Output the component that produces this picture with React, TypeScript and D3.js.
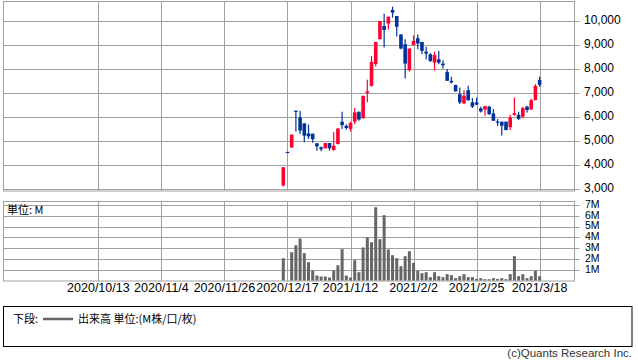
import React from "react";
import * as d3 from "d3";

// ---- data (trading days, oldest first) ----
const dates = [
  "2020/12/16","2020/12/17","2020/12/18","2020/12/21","2020/12/22","2020/12/23","2020/12/24","2020/12/25",
  "2020/12/28","2020/12/29","2020/12/30","2021/1/4","2021/1/5","2021/1/6","2021/1/7","2021/1/8",
  "2021/1/12","2021/1/13","2021/1/14","2021/1/15","2021/1/18","2021/1/19","2021/1/20","2021/1/21",
  "2021/1/22","2021/1/25","2021/1/26","2021/1/27","2021/1/28","2021/1/29","2021/2/1","2021/2/2",
  "2021/2/3","2021/2/4","2021/2/5","2021/2/8","2021/2/9","2021/2/10","2021/2/12","2021/2/15",
  "2021/2/16","2021/2/17","2021/2/18","2021/2/19","2021/2/22","2021/2/24","2021/2/25","2021/2/26",
  "2021/3/1","2021/3/2","2021/3/3","2021/3/4","2021/3/5","2021/3/8","2021/3/9","2021/3/10",
  "2021/3/11","2021/3/12","2021/3/15","2021/3/16","2021/3/17","2021/3/18",
];
const open = [
  3125,4530,4720,6250,5970,5720,5300,5290,4890,4720,4680,4900,4610,4860,5790,5620,
  5490,5790,6210,5940,6990,7290,8200,9240,9790,9890,10460,10210,9440,9030,7940,8990,
  9280,9125,8720,8610,8260,8400,8220,7875,7500,7330,6940,6560,7110,6600,6600,6350,
  6300,6420,6140,5800,5790,5790,5560,6080,6080,6000,6420,6300,6690,7540,
];
const high = [
  3888,4530,5250,6260,6250,5740,5670,5290,4890,4760,4900,4900,5350,5510,6210,5690,
  5790,6360,6210,6890,7540,8540,9125,10000,10300,10180,10600,10210,9440,9240,8850,9400,
  9440,9125,8920,8650,8720,8750,8360,7990,7670,7330,7220,7110,7290,6780,6800,6420,
  6460,6460,6320,5900,5800,5800,6080,6800,6210,6420,6460,6750,7360,7670,
];
const low = [
  3083,4530,4695,5380,5280,4930,5070,4910,4580,4560,4680,4580,4580,4840,5490,5460,
  5390,5690,5830,5920,6600,7250,8100,9240,8890,9650,10140,9350,8820,7600,7890,8990,
  8820,8610,8400,8290,7930,8190,8010,7500,7390,7050,6530,6530,6670,6360,6500,6180,
  6040,6070,5830,5620,5210,5440,5440,6040,5875,5940,6180,6300,6690,7250,
];
const close = [
  3888,4530,5250,6220,5420,5210,5180,5060,4760,4640,4900,4680,4790,5510,5650,5530,
  5740,6180,5880,6870,7060,8290,9125,10000,9625,10180,10350,9760,8850,8220,8850,9170,
  9060,8750,8640,8330,8580,8260,8150,7500,7430,7060,6600,6875,6690,6420,6500,6220,
  6440,6110,5830,5780,5625,5440,5970,6150,5900,6360,6280,6690,7290,7330,
];
// volume in millions
const volume = [
  2.07,0,2.63,3.28,3.9,2.54,1.7,0.93,0.46,0.37,0.37,0.28,0.93,1.42,2.91,0.46,
  0.28,1.89,0.77,3.07,4.02,3.56,6.81,3.84,6.07,2.88,2.35,2.07,1.33,2.26,2.72,1.64,
  0.9,0.68,0.77,0.31,0.77,0.4,0.31,0.59,0.5,0.22,0.4,0.59,0.31,0.31,0.15,0.22,
  0.12,0.12,0.22,0.15,0.22,0.12,0.59,2.26,0.4,0.59,0.22,0.4,0.9,0.4,
];
// x-axis tick labels and their distance (trading days) before the last date
const tickLabels = ["2020/10/13","2020/11/4","2020/11/26","2020/12/17","2021/1/12","2021/2/2","2021/2/25","2021/3/18"];
const tickDaysBefore = [105, 90, 75, 60, 45, 30, 15, 0];
const priceTicks = [3000, 4000, 5000, 6000, 7000, 8000, 9000, 10000];
const volTicks = [1, 2, 3, 4, 5, 6, 7];

// ---- layout ----
const W = 638, H = 362;
const left = 3, right = 574.5;
const mainTop = 1, mainBottom = 190.5;
const volTop = 201.5, volBottom = 281;
const UP = "#ff0033", DOWN = "#003399", VOL = "#666666", GRID = "#a0a0a0";
const LATIN = "'Liberation Sans', Arial, sans-serif";
const CJK = "'Noto Sans CJK JP', sans-serif";

export default function App() {
  const n = dates.length;
  const x = d3.scaleLinear().domain([127.7, -8.3]).range([left, right]);
  const xi = (i: number) => x(n - 1 - i);
  const yP = d3.scaleLinear().domain([3000, 10000]).range([188.5, 21]);
  const yV = d3.scaleLinear().domain([0, 7]).range([280.5, 205.2]);
  const crisp = (v: number) => Math.round(v) + 0.5;
  const bodyW = 3.6, volW = 3;

  return (
    <svg width={W} height={H} style={{ position: "absolute", left: 0, top: 0, background: "#fff" }}>
      {/* main panel */}
      <rect x={left + 0.5} y={mainTop + 0.5} width={right - left - 0.5} height={mainBottom - mainTop} fill="#fff" stroke={GRID} />
      {priceTicks.map((p) => (
        <g key={p}>
          <line x1={left} x2={right + 5} y1={crisp(yP(p))} y2={crisp(yP(p))} stroke={GRID} />
          <text x={584} y={yP(p)} dominantBaseline="middle" fontFamily={LATIN} fontSize={12} fill="#000">
            {d3.format(",")(p)}
          </text>
        </g>
      ))}
      {tickDaysBefore.map((d) => (
        <line key={"vg" + d} x1={crisp(x(d))} x2={crisp(x(d))} y1={mainTop} y2={mainBottom} stroke={GRID} />
      ))}
      {/* candles */}
      {dates.map((dt, i) => {
        const up = close[i] > open[i];
        const c = up ? UP : DOWN;
        const cx = xi(i);
        const top = yP(Math.max(open[i], close[i]));
        const bot = yP(Math.min(open[i], close[i]));
        return (
          <g key={dt}>
            <line x1={cx} x2={cx} y1={yP(high[i])} y2={yP(low[i])} stroke={c} strokeWidth={1.2} />
            <rect x={cx - bodyW / 2} y={top} width={bodyW} height={Math.max(1.2, bot - top)} fill={c} />
          </g>
        );
      })}

      {/* volume panel */}
      <rect x={left + 0.5} y={volTop} width={right - left - 0.5} height={volBottom - volTop} fill="#fff" stroke={GRID} />
      {volTicks.map((v) => (
        <g key={v}>
          <line x1={left} x2={right + 5} y1={crisp(yV(v))} y2={crisp(yV(v))} stroke={GRID} />
          <text x={585} y={yV(v)} dominantBaseline="middle" fontFamily={LATIN} fontSize={10.5} fill="#000">
            {v + "M"}
          </text>
        </g>
      ))}
      {tickDaysBefore.map((d) => (
        <line key={"vv" + d} x1={crisp(x(d))} x2={crisp(x(d))} y1={volTop} y2={volBottom} stroke={GRID} />
      ))}
      {volume.map((v, i) =>
        v > 0 ? (
          <rect key={"v" + i} x={xi(i) - volW / 2} y={yV(v)} width={volW} height={yV(0) - yV(v)} fill={VOL} />
        ) : null
      )}
      <text x={7} y={214} fontFamily={CJK} fontSize={11} fill="#000">単位: M</text>

      {/* x-axis labels */}
      {tickLabels.map((t, k) => (
        <text key={t} x={x(tickDaysBefore[k])} y={292} textAnchor="middle" fontFamily={LATIN} fontSize={12.5} fill="#000">
          {t}
        </text>
      ))}

      {/* legend */}
      <rect x={3.5} y={306.5} width={628.5} height={40} fill="none" stroke="#000" />
      <text x={13} y={323} fontFamily={CJK} fontSize={11} fill="#000">下段:</text>
      <line x1={43} x2={73} y1={319} y2={319} stroke={VOL} strokeWidth={2.5} />
      <text x={78} y={323} fontFamily={CJK} fontSize={11} fill="#000">出来高 単位:(M株/口/枚)</text>

      {/* footer */}
      <text x={632} y={357} textAnchor="end" fontFamily={LATIN} fontSize={11.5} fill="#333">(c)Quants Research Inc.</text>
    </svg>
  );
}
